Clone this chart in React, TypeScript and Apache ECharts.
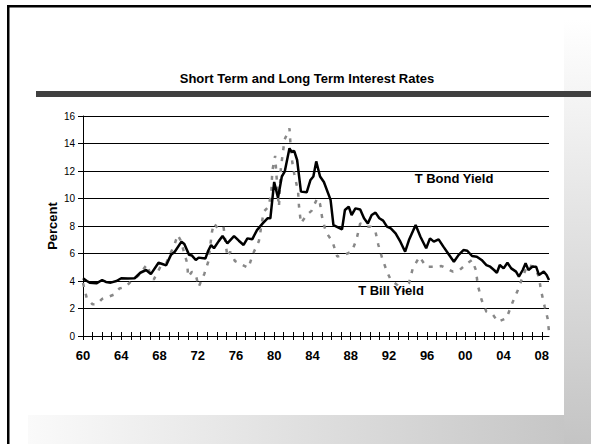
import { useEffect, useRef } from "react";
import * as echarts from "echarts";

// Long-term Treasury bond yield, percent (time in fractional years)
const bondYears = [
  1960.0, 1960.4, 1960.7, 1961.4, 1962.0, 1962.4, 1962.9, 1963.5, 1964.0, 1964.7,
  1965.4, 1966.0, 1966.6, 1967.1, 1967.9, 1968.3, 1968.7, 1969.2, 1969.6, 1970.3,
  1970.6, 1971.1, 1971.4, 1971.8, 1972.1, 1972.8, 1973.1, 1973.4, 1973.7, 1974.2,
  1974.6, 1975.1, 1975.8, 1976.3, 1976.8, 1977.2, 1977.7, 1978.2, 1978.8, 1979.3,
  1979.6, 1980.0, 1980.4, 1980.8, 1981.1, 1981.6, 1981.8, 1982.1, 1982.4, 1982.8,
  1983.4, 1983.8, 1984.1, 1984.4, 1984.8, 1985.2, 1985.9, 1986.2, 1987.1, 1987.4,
  1987.8, 1988.1, 1988.5, 1989.0, 1989.4, 1989.8, 1990.2, 1990.6, 1991.0, 1991.4,
  1991.8, 1992.2, 1992.7, 1993.2, 1993.7, 1994.1, 1994.8, 1995.3, 1995.9, 1996.3,
  1996.7, 1997.2, 1997.7, 1998.2, 1998.8, 1999.3, 1999.8, 2000.2, 2000.7, 2001.2,
  2001.7, 2002.2, 2002.6, 2003.0, 2003.3, 2003.6, 2004.0, 2004.4, 2004.8, 2005.3,
  2005.6, 2006.0, 2006.3, 2006.6, 2007.0, 2007.4, 2007.7, 2008.2, 2008.5, 2008.75,
];
const bondYield = [
  4.2, 4.0, 3.88, 3.83, 4.07, 3.93, 3.88, 4.0, 4.2, 4.18,
  4.2, 4.6, 4.8, 4.5, 5.33, 5.24, 5.14, 5.9, 6.13, 6.86,
  6.69, 5.9, 5.85, 5.53, 5.7, 5.63, 6.2, 6.62, 6.38, 6.9,
  7.27, 6.74, 7.27, 6.93, 6.62, 7.1, 7.03, 7.7, 8.19, 8.56,
  8.56, 11.2, 10.06, 11.6, 11.95, 13.65, 13.4, 13.45, 12.8, 10.5,
  10.45, 11.35, 11.6, 12.7, 11.6, 11.2, 9.9, 8.07, 7.76, 9.16,
  9.4, 8.8, 9.28, 9.2, 8.56, 8.19, 8.8, 8.97, 8.56, 8.39,
  7.95, 7.83, 7.47, 6.86, 6.13, 6.98, 8.07, 7.22, 6.38, 7.1,
  6.86, 7.03, 6.5, 6.0, 5.4, 5.9, 6.25, 6.2, 5.82, 5.77,
  5.53, 5.16, 5.04, 4.8, 4.6, 5.16, 4.92, 5.33, 4.92, 4.68,
  4.31, 4.8, 5.29, 4.8, 5.04, 5.04, 4.44, 4.68, 4.44, 4.07,
];

// Treasury bill yield, percent
const billYears = [
  1960.0, 1960.4, 1961.0, 1961.5, 1962.0, 1962.7, 1963.2, 1963.8, 1964.5, 1965.0,
  1965.8, 1966.7, 1967.0, 1967.4, 1968.1, 1968.7, 1969.2, 1969.5, 1969.9, 1970.2,
  1970.9, 1971.0, 1971.4, 1971.8, 1972.1, 1972.7, 1973.1, 1973.5, 1973.7, 1974.1,
  1974.7, 1975.1, 1975.4, 1975.9, 1976.4, 1977.3, 1977.8, 1978.4, 1978.9, 1979.4,
  1979.7, 1979.8, 1980.1, 1980.4, 1980.5, 1980.7, 1980.9, 1981.1, 1981.6, 1981.7,
  1981.9, 1982.1, 1982.5, 1982.6, 1982.8, 1983.4, 1983.9, 1984.5, 1984.8, 1985.0,
  1985.4, 1986.1, 1986.6, 1987.3, 1988.1, 1988.6, 1989.0, 1989.5, 1990.1, 1990.6,
  1990.9, 1991.3, 1991.8, 1992.2, 1992.9, 1993.5, 1994.1, 1994.5, 1995.2, 1995.9,
  1996.6, 1997.5, 1998.0, 1998.7, 1999.4, 2000.2, 2000.7, 2001.1, 2001.3, 2001.7,
  2002.2, 2002.9, 2003.4, 2004.3, 2004.9, 2005.5, 2006.0, 2006.5, 2007.2, 2007.7,
  2007.9, 2008.3, 2008.6, 2008.75,
];
const billYield = [
  3.85, 2.74, 2.3, 2.33, 2.7, 2.86, 3.0, 3.45, 3.6, 3.95,
  4.4, 5.2, 4.6, 4.1, 5.04, 5.29, 6.1, 6.5, 7.35, 6.98,
  5.29, 4.31, 4.68, 4.44, 3.57, 4.53, 5.4, 7.6, 8.19, 7.83,
  7.95, 5.77, 6.13, 5.45, 5.27, 4.95, 6.0, 6.9, 9.04, 9.4,
  10.4, 12.0, 13.1, 10.1, 9.4, 12.2, 13.3, 14.3, 15.1, 14.0,
  12.6, 11.8, 10.5, 9.4, 8.2, 8.8, 9.1, 10.0, 9.6, 8.68,
  7.58, 6.86, 5.77, 5.9, 6.13, 6.98, 8.19, 7.95, 7.95, 7.58,
  6.62, 5.65, 4.68, 4.07, 3.7, 3.22, 3.83, 4.92, 5.77, 5.04,
  5.04, 5.09, 4.92, 4.68, 4.8, 5.29, 5.53, 4.8, 3.7, 2.62,
  1.77, 1.53, 1.04, 1.29, 2.38, 3.35, 4.31, 5.16, 5.04, 4.31,
  3.35, 2.13, 1.29, 0.31,
];

// Axis ticks: one per year, labelled every fourth year
const tickYears = [
  1960, 1961, 1962, 1963, 1964, 1965, 1966, 1967, 1968, 1969,
  1970, 1971, 1972, 1973, 1974, 1975, 1976, 1977, 1978, 1979,
  1980, 1981, 1982, 1983, 1984, 1985, 1986, 1987, 1988, 1989,
  1990, 1991, 1992, 1993, 1994, 1995, 1996, 1997, 1998, 1999,
  2000, 2001, 2002, 2003, 2004, 2005, 2006, 2007, 2008,
];
const labelYears = [1960, 1964, 1968, 1972, 1976, 1980, 1984, 1988, 1992, 1996, 2000, 2004, 2008];

const FONT = "'Liberation Sans', Arial, Helvetica, sans-serif";

export default function App() {
  const ref = useRef<HTMLDivElement>(null);

  useEffect(() => {
    if (!ref.current) return;
    const chart = echarts.init(ref.current, undefined, { renderer: "svg" });

    const axisBase = {
      type: "value" as const,
      min: 1960,
      max: 2008.75,
      position: "bottom" as const,
      splitLine: { show: false },
    };

    chart.setOption({
      animation: false,
      backgroundColor: "#ffffff",
      textStyle: { fontFamily: FONT },
      grid: { left: 83, right: 42, top: 116, bottom: 108, containLabel: false, outerBoundsMode: "none" },
      xAxis: [
        {
          ...axisBase,
          axisLine: { show: true, lineStyle: { color: "#000", width: 1 } },
          axisTick: { show: true, length: 4, customValues: tickYears, lineStyle: { color: "#000", width: 1 } },
          axisLabel: {
            customValues: labelYears,
            formatter: (v: number) => String(Math.round(v) % 100).padStart(2, "0"),
            color: "#000",
            fontWeight: "bold",
            fontSize: 13,
            fontFamily: FONT,
            margin: 13,
          },
        },
        {
          ...axisBase,
          axisLine: { show: false },
          axisTick: { show: true, inside: true, length: 4, customValues: tickYears, lineStyle: { color: "#000", width: 1 } },
          axisLabel: { show: false },
        },
      ],
      yAxis: {
        type: "value",
        min: 0,
        max: 16,
        interval: 2,
        axisLine: { show: true, lineStyle: { color: "#000", width: 1 } },
        axisTick: { show: true, length: 5, lineStyle: { color: "#000", width: 1 } },
        axisLabel: { color: "#000", fontSize: 10, fontFamily: FONT, margin: 8 },
        splitLine: { show: true, lineStyle: { color: "#000", width: 1 } },
      },
      series: [
        {
          name: "T Bill Yield",
          type: "line",
          xAxisIndex: 0,
          data: billYears.map((x, i) => [x, billYield[i]]),
          showSymbol: false,
          symbol: "none",
          lineStyle: { color: "#888888", width: 2.5, type: [4, 7] },
          z: 2,
        },
        {
          name: "T Bond Yield",
          type: "line",
          xAxisIndex: 0,
          data: bondYears.map((x, i) => [x, bondYield[i]]),
          showSymbol: false,
          symbol: "none",
          lineStyle: { color: "#000000", width: 2.5 },
          z: 3,
        },
      ],
      graphic: [
        {
          type: "rect",
          shape: { x: 28, y: 415, width: 536, height: 29 },
          style: {
            fill: new echarts.graphic.LinearGradient(0, 0, 1, 0, [
              { offset: 0, color: "#fafafa" },
              { offset: 1, color: "#c6c6c6" },
            ]),
          },
          z: -10,
        },
        {
          type: "rect",
          shape: { x: 564, y: 20, width: 27, height: 424 },
          style: {
            fill: new echarts.graphic.LinearGradient(0, 0, 0, 1, [
              { offset: 0, color: "#ffffff" },
              { offset: 1, color: "#c4c4c4" },
            ]),
          },
          z: -10,
        },
        { type: "rect", shape: { x: 36, y: 91, width: 555, height: 6 }, style: { fill: "#404040" }, z: -5 },
        { type: "rect", shape: { x: 7, y: 5, width: 584, height: 2.5 }, style: { fill: "#000" } },
        { type: "rect", shape: { x: 7, y: 5, width: 2.5, height: 439 }, style: { fill: "#000" } },
        {
          type: "text",
          x: 307,
          y: 78,
          style: {
            text: "Short Term and Long Term Interest Rates",
            fill: "#000",
            font: `bold 13px ${FONT}`,
            align: "center",
            verticalAlign: "middle",
          },
        },
        {
          type: "text",
          x: 52,
          y: 226,
          rotation: Math.PI / 2,
          style: {
            text: "Percent",
            fill: "#000",
            font: `bold 13px ${FONT}`,
            align: "center",
            verticalAlign: "middle",
          },
        },
        {
          type: "text",
          x: 454,
          y: 178,
          style: {
            text: "T Bond Yield",
            fill: "#000",
            font: `bold 13px ${FONT}`,
            align: "center",
            verticalAlign: "middle",
          },
          z: 10,
        },
        {
          type: "text",
          x: 391,
          y: 290,
          style: {
            text: "T Bill Yield",
            fill: "#000",
            font: `bold 13px ${FONT}`,
            align: "center",
            verticalAlign: "middle",
          },
          z: 10,
        },
      ],
    });

    return () => chart.dispose();
  }, []);

  return (
    <div
      ref={ref}
      style={{ position: "fixed", left: 0, top: 0, width: 591, height: 444, background: "#fff" }}
    />
  );
}
